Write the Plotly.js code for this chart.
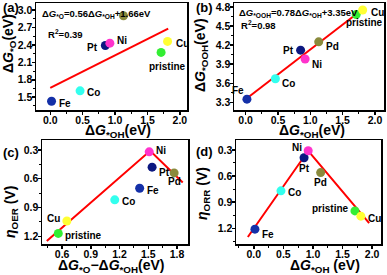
<!DOCTYPE html>
<html><head><meta charset="utf-8">
<script src="https://cdn.plot.ly/plotly-3.0.1.min.js"></script>
<style>html,body{margin:0;padding:0;background:#fff}#c{width:387px;height:275px}</style>
</head><body><div id="c"></div>
<script>
// ---- data ----
const materials = ['Fe', 'Co', 'Pt', 'Ni', 'Pd', 'pristine', 'Cu'];
const dG_OH = [0.02, 0.46, 0.85, 0.92, 1.13, 1.71, 1.81];
const dG_O = [1.43, 1.61, 2.39, 2.43, 2.90, 2.27, 2.46];
const dG_OOH = [3.35, 3.67, 4.12, 3.98, 4.25, 4.68, 4.75];
const dG_O_minus_OH = [1.41, 1.15, 1.54, 1.51, 1.77, 0.56, 0.65];
const eta_OER = [0.70, 0.82, 0.48, 0.32, 0.54, 1.17, 1.04];
const eta_ORR = [1.21, 0.77, 0.39, 0.31, 0.56, 1.00, 1.06];
const fitA_x = [0.0, 1.82];
const fitA_y = [1.66, 2.68];
const fitB_x = [0.0, 1.82];
const fitB_y = [3.35, 4.77];
const oerLine_x = [0.44, 1.52, 1.86];
const oerLine_y = [1.25, 0.31, 0.64];
const orrLine_x = [-0.10, 0.92, 1.95];
const orrLine_y = [1.30, 0.31, 1.14];
const eqA = 'ΔG*O=0.56ΔG*OH+1.66eV';
const eqB = 'ΔG*OOH=0.78ΔG*OH+3.35eV';
const r2A = '0.39';
const r2B = '0.98';

// ---- styles ----
const colors = ['#1430a8', '#33ffee', '#0c1880', '#ff33cc', '#8a8a3c', '#33ee33', '#ffff33'];
const FONT = 'Arial, "Liberation Sans", sans-serif';
// label placement per panel: [xanchor, xshift, yshift] ; null = no label
const labA = [['left',5,-2],['left',5,-2],['right',-5,-2],['left',5,3],null,['center',6,-14],['left',6,-2]];
const labB = [['right',-1,9],['left',5,-5],['right',-5,0],['left',5,-5],['left',5,-5],['center',8,-8],['left',6,-2]];
const labC = [['left',5,-2],['left',5,-2],['left',5,-5],['left',5,1],['center',0,-9],['left',5,-2],['right',-5,2]];
const labD = [['left',5,-5],['left',5,-2],['center',0,-11],['right',-4,3],['center',0,-10],['right',-4,2],['left',5,-2]];

function marks(xs, ys, xa, ya) {
  return {x: xs, y: ys, xaxis: xa, yaxis: ya, mode: 'markers', type: 'scatter',
    marker: {color: colors, size: 9, line: {width: 0}}, hoverinfo: 'none', showlegend: false};
}
function line(xs, ys, xa, ya) {
  return {x: xs, y: ys, xaxis: xa, yaxis: ya, mode: 'lines', type: 'scatter',
    line: {color: '#ff0000', width: 2}, hoverinfo: 'none', showlegend: false};
}
const traces = [
  line(fitA_x, fitA_y, 'x', 'y'), marks(dG_OH, dG_O, 'x', 'y'),
  line(fitB_x, fitB_y, 'x2', 'y2'), marks(dG_OH, dG_OOH, 'x2', 'y2'),
  line(oerLine_x, oerLine_y, 'x3', 'y3'), marks(dG_O_minus_OH, eta_OER, 'x3', 'y3'),
  line(orrLine_x, orrLine_y, 'x4', 'y4'), marks(dG_OH, eta_ORR, 'x4', 'y4')
];

const ann = [];
function labels(xs, ys, xr, yr, lab) {
  materials.forEach((m, i) => {
    const L = lab[i];
    if (!L) return;
    ann.push({x: xs[i], y: ys[i], xref: xr, yref: yr, text: '<b>' + m + '</b>', showarrow: false,
      xanchor: L[0], yanchor: 'middle', xshift: L[1], yshift: L[2],
      font: {family: FONT, size: 10, color: '#000'}});
  });
}
labels(dG_OH, dG_O, 'x', 'y', labA);
labels(dG_OH, dG_OOH, 'x2', 'y2', labB);
labels(dG_O_minus_OH, eta_OER, 'x3', 'y3', labC);
labels(dG_OH, eta_ORR, 'x4', 'y4', labD);

function fmtEq(s) {
  return '<b>' + s.replace(/ΔG\*(O+H?)/g, 'Δ<i>G</i><sub>*$1</sub>') + '</b>';
}
function paperText(x, y, text, size, xanchor, angle) {
  ann.push({x: x / 387, y: 1 - y / 275, xref: 'paper', yref: 'paper', text: text, showarrow: false,
    xanchor: xanchor || 'left', yanchor: 'middle', textangle: angle || 0,
    font: {family: FONT, size: size, color: '#000'}});
}
paperText(1, 8, '<b>(a)</b>', 13);
paperText(194, 8, '<b>(b)</b>', 13);
paperText(1, 152, '<b>(c)</b>', 13);
paperText(194, 151, '<b>(d)</b>', 13);
paperText(40, 14, fmtEq(eqA), 9.5);
paperText(237, 13, fmtEq(eqB), 9.5);
paperText(46, 34, '<b>R<sup>2</sup>=' + r2A + '</b>', 9.5);
paperText(239, 25, '<b>R<sup>2</sup>=' + r2B + '</b>', 9.5);
// axis titles
const TS = 14;
paperText(118, 131, '<b>Δ<i>G</i><sub>*OH</sub>(eV)</b>', TS, 'center');
paperText(312, 131, '<b>Δ<i>G</i><sub>*OH</sub>(eV)</b>', TS, 'center');
paperText(112, 266, '<b>Δ<i>G</i><sub>*O</sub>−Δ<i>G</i><sub>*OH</sub>(eV)</b>', TS, 'center');
paperText(325, 266, '<b>Δ<i>G</i><sub>*OH</sub> (eV)</b>', TS, 'center');
paperText(9, 44, '<b>Δ<i>G</i><sub>*O</sub>(eV)</b>', TS, 'center', -90);
paperText(201, 55, '<b>Δ<i>G</i><sub>*OOH</sub>(eV)</b>', TS, 'center', -90);
paperText(11, 212, '<b><i>η</i><sub>OER</sub> (V)</b>', TS, 'center', -90);
paperText(203, 194, '<b><i>η</i><sub>ORR</sub> (V)</b>', TS, 'center', -90);

function ax(domain, range, dtick, minor, anchor) {
  return {
    domain: domain, range: range, dtick: dtick, tick0: 0, anchor: anchor, tickformat: '.1f',
    showline: true, mirror: true, linecolor: '#000', linewidth: 1.5,
    ticks: 'outside', ticklen: 3, tickwidth: 1.5, tickcolor: '#000', ticklabelstandoff: -3,
    minor: {dtick: minor, ticks: 'outside', ticklen: 2, tickwidth: 1, tickcolor: '#000'},
    showgrid: false, zeroline: false,
    tickfont: {family: FONT, size: 10.5, color: '#000', weight: 'bold'},
    automargin: false
  };
}
const dA = [36 / 387, 187 / 387], dB = [234 / 387, 384 / 387];
const dC = [42 / 387, 188 / 387], dD = [236 / 387, 381 / 387];
const yTop = [1 - 110 / 275, 1 - 3 / 275], yBot = [1 - 244 / 275, 1 - 140 / 275];
const layout = {
  width: 387, height: 275, margin: {l: 0, r: 0, t: 0, b: 0},
  paper_bgcolor: '#fff', plot_bgcolor: '#fff', showlegend: false,
  xaxis: ax(dA, [-0.22, 2.11], 0.5, 0.25, 'y'),
  yaxis: ax(yTop, [1.28, 3.12], 0.3, 0.15, 'x'),
  xaxis2: ax(dB, [-0.18, 2.14], 0.5, 0.25, 'y2'),
  yaxis2: ax(yTop, [3.18, 4.86], 0.3, 0.15, 'x2'),
  xaxis3: ax(dC, [0.39, 1.915], 0.3, 0.15, 'y3'),
  yaxis3: ax(yBot, [1.28, 0.197], 0.3, 0.15, 'x3'),
  xaxis4: ax(dD, [-0.30, 2.15], 0.5, 0.25, 'y4'),
  yaxis4: ax(yBot, [1.38, 0.186], 0.3, 0.15, 'x4'),
  annotations: ann
};
Plotly.newPlot('c', traces, layout, {staticPlot: true, displayModeBar: false});
</script>
</body></html>
